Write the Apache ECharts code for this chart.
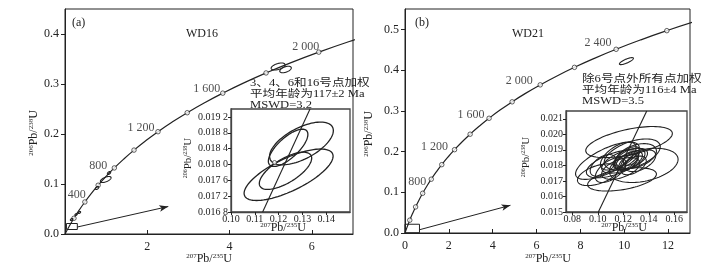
<!DOCTYPE html>
<html><head><meta charset="utf-8">
<script src="https://cdn.jsdelivr.net/npm/echarts@6/dist/echarts.min.js"></script>
<style>html,body{margin:0;padding:0;background:#fff}#c{width:728px;height:278px}</style>
</head><body><div id="c"></div>
<script>
// ---- data ----
const concordiaAges = [0,100,200,300,400,500,600,700,800,900,1000,1100,1200,1300,1400,1500,1600,1700,1800,1900,2000,2100,2200,2300,2400,2500,2600,2700,2800];
const concordia207 = [0,0.1035,0.2177,0.3437,0.4828,0.6364,0.8057,0.9927,1.1987,1.4263,1.6774,1.9546,2.2603,2.5977,2.9703,3.3812,3.8348,4.3346,4.8868,5.4960,6.1685,6.9104,7.7292,8.6325,9.6297,10.7301,11.9444,13.2844,14.7631];
const concordia206 = [0,0.01563,0.03151,0.04764,0.06402,0.08065,0.09754,0.11470,0.13213,0.14984,0.16782,0.18607,0.20459,0.22343,0.24256,0.26198,0.28171,0.30177,0.32211,0.34280,0.36374,0.38509,0.40672,0.42874,0.45107,0.47374,0.49680,0.52024,0.54400];
const labeledAgesA = [400,800,1200,1600,2000];
const labeledAgesB = [800,1200,1600,2000,2400];
// error ellipses: [x207, y206, sx, sy, rho]
const mainEllipsesA = [[5.18,0.335,0.17,0.007,0.5],[5.36,0.329,0.14,0.0065,0.5],[0.99,0.109,0.13,0.006,0.6],[1.07,0.122,0.04,0.003,0.5],[0.78,0.092,0.04,0.003,0.5],[0.16,0.029,0.03,0.002,0.5],[0.27,0.039,0.03,0.002,0.5],[0.35,0.043,0.03,0.002,0.5]];
const mainEllipsesB = [[10.1,0.422,0.32,0.0086,0.8]];
const insetEllipsesA = [[0.1296,0.01853,0.0134,0.00054,0.6],[0.1240,0.01842,0.0083,0.00047,0.72],[0.1242,0.01774,0.0187,0.00065,0.72],[0.1229,0.01784,0.0110,0.00047,0.68]];
const insetEllipsesB = [[0.1245,0.0195,0.034,0.0010,0.55],[0.136,0.0180,0.027,0.0011,0.35],[0.119,0.0171,0.027,0.00075,0.45],[0.1075,0.0183,0.025,0.0012,0.7],[0.100,0.0174,0.016,0.0007,0.5],[0.113,0.0181,0.022,0.0009,0.6],[0.127,0.0187,0.022,0.0010,0.5],[0.121,0.0183,0.018,0.0008,0.6],[0.125,0.0184,0.012,0.0007,0.5],[0.123,0.0183,0.009,0.0006,0.6],[0.126,0.0184,0.006,0.0004,0.5],[0.124,0.0182,0.0075,0.0005,0.55],[0.118,0.0178,0.015,0.0007,0.5],[0.130,0.0186,0.016,0.0008,0.4],[0.116,0.0186,0.014,0.0009,0.6],[0.1335,0.0183,0.012,0.0007,0.5],[0.110,0.0177,0.012,0.0008,0.55],[0.128,0.0180,0.010,0.0006,0.5],[0.1225,0.0185,0.0105,0.0007,0.65],[0.104,0.0180,0.010,0.0007,0.5]];
const insetConcordiaA = [[0.1133,0.0168],[0.1332,0.0194]];
const insetConcordiaB = [[0.1004,0.015],[0.1384,0.0215]];
const insetMarkA = [[0.1183,0.01805]];
const zoomBoxA = [[0.035,0.009],[0.30,0.009],[0.30,0.021],[0.035,0.021],[0.035,0.009]];
const arrowA = [[0.30,0.014],[2.51,0.055]];
const zoomBoxB = [[0,0.0005],[0.66,0.0005],[0.66,0.0215],[0,0.0215],[0,0.0005]];
const arrowB = [[0.66,0.008],[4.81,0.068]];
const insetTicksBx = [0.08,0.10,0.12,0.14,0.16];
const textA = ['3、4、6和16号点加权','平均年龄为117±2 Ma','MSWD=3.2'];
const textB = ['除6号点外所有点加权','平均年龄为116±4 Ma','MSWD=3.5'];

// ---- chart ----
const FONT = '"Liberation Serif","Noto Sans CJK SC",serif';
const INK = '#222';
const chart = echarts.init(document.getElementById('c'), null, {renderer:'canvas'});
const curve = concordiaAges.map((a,i)=>[concordia207[i],concordia206[i]]);
const circles = concordiaAges.map((a,i)=>[concordia207[i],concordia206[i],a]).filter(d=>d[2]>0 && d[2]%200===0);
function ageText(a){const s=String(a);return s.length>3? s.slice(0,s.length-3)+' '+s.slice(-3):s;}
const offA = {400:[-8,-7],800:[-16,-2],1200:[-17,-4],1600:[-16,-4],2000:[-13,-5]};
const offB = {800:[-14,3],1200:[-20,-3],1600:[-18,-3],2000:[-21,-4],2400:[-18,-6]};
function labelData(ages, off){
  return ages.map(a=>{const i=concordiaAges.indexOf(a);return {value:[concordia207[i],concordia206[i],a],label:{position:off[a]}};});
}
function ellipseSeries(data, xi, lw){
  return {type:'custom', xAxisIndex:xi, yAxisIndex:xi, clip:true, data:data, encode:{x:0,y:1}, z:4,
    renderItem:function(params, api){
      const cx=api.value(0), cy=api.value(1), sx=api.value(2), sy=api.value(3), r=api.value(4);
      const q=Math.sqrt(1-r*r), pts=[];
      for(let k=0;k<=90;k++){const t=k/90*2*Math.PI;pts.push(api.coord([cx+sx*Math.cos(t), cy+sy*(r*Math.cos(t)+q*Math.sin(t))]));}
      return {type:'polygon', shape:{points:pts}, style:{fill:'none', stroke:INK, lineWidth:lw}};
    }};
}
function mainX(gi, max){return {gridIndex:gi,type:'value',min:0,max:max,interval:2,
  axisLine:{show:true,onZero:false,lineStyle:{color:INK,width:1}},axisTick:{show:true,inside:true,length:4,lineStyle:{color:INK}},
  splitLine:{show:false},axisLabel:{show:true,color:INK,fontFamily:FONT,fontSize:12,margin:7,showMaxLabel:false,showMinLabel:gi===1}};}
function mainY(gi, max){return {gridIndex:gi,type:'value',min:0,max:max,interval:0.1,
  axisLine:{show:true,onZero:false,lineStyle:{color:INK,width:1}},axisTick:{show:true,inside:false,length:4,lineStyle:{color:INK}},
  splitLine:{show:false},axisLabel:{show:true,color:INK,fontFamily:FONT,fontSize:12,margin:6,showMaxLabel:false,formatter:v=>v.toFixed(1)}};}
const insetAxisBase = {type:'value', axisLine:{show:true,onZero:false,lineStyle:{color:'#444',width:1.3}}, axisTick:{show:true,inside:false,length:3,lineStyle:{color:INK}}, splitLine:{show:false}};
function sp4(v){const s=v.toFixed(4);return s.slice(0,5)+' '+s.slice(5);}

function axisTitle(x,y,txt,rot,sz){
  return {type:'text', x:x, y:y, rotation:rot, z:100,
    style:{text:'{s|'+txt[0]+'}Pb/{s|'+txt[1]+'}U', fill:INK, font:sz+'px '+FONT, align:'center', verticalAlign:'middle',
      rich:{s:{fontSize:Math.round(sz*0.58),fontFamily:FONT,fill:INK,verticalAlign:'top'}}}};
}
function plainText(x,y,t,sz,align){
  return {type:'text', x:x, y:y, z:100, style:{text:t, fill:INK, font:sz+'px '+FONT, align:align||'left', verticalAlign:'middle'}};
}
function noteText(x,y,lines){
  return {type:'text', x:x, y:y, z:100, scaleX:1.2, style:{text:lines.join('\n'), fill:INK, font:'10.5px '+FONT, lineHeight:11, align:'left', verticalAlign:'top'}};
}

const option = {
  animation:false, backgroundColor:'#fff',
  grid:[
    {left:65, top:9, width:288, height:225, show:true, borderColor:INK, borderWidth:1, backgroundColor:'transparent'},
    {left:405, top:9, width:285, height:224, show:true, borderColor:INK, borderWidth:1, backgroundColor:'transparent'},
    {left:231, top:109, width:119, height:103, show:true, borderColor:'#444', borderWidth:1.3, backgroundColor:'#fff', z:5},
    {left:566, top:111, width:121, height:101, show:true, borderColor:'#444', borderWidth:1.3, backgroundColor:'#fff', z:5}
  ],
  xAxis:[
    mainX(0,7), mainX(1,13),
    Object.assign({}, insetAxisBase, {gridIndex:2, min:0.10, max:0.15, interval:0.01, z:6,
      axisLabel:{color:INK,fontFamily:FONT,fontSize:10,margin:2,showMaxLabel:false,formatter:v=>v.toFixed(2)}}),
    Object.assign({}, insetAxisBase, {gridIndex:3, min:0.075, max:0.17, z:6,
      axisTick:{show:true,inside:false,length:3,customValues:insetTicksBx,lineStyle:{color:INK}},
      axisLabel:{color:INK,fontFamily:FONT,fontSize:10,margin:2,customValues:insetTicksBx,formatter:v=>v.toFixed(2)}})
  ],
  yAxis:[
    mainY(0,0.45), mainY(1,0.55),
    Object.assign({}, insetAxisBase, {gridIndex:2, min:0.0168, max:0.0194, interval:0.0004, z:6,
      axisLabel:{color:INK,fontFamily:FONT,fontSize:10,margin:3,showMaxLabel:false,formatter:sp4}}),
    Object.assign({}, insetAxisBase, {gridIndex:3, min:0.015, max:0.0215, interval:0.001, z:6,
      axisLabel:{color:INK,fontFamily:FONT,fontSize:10,margin:3,showMaxLabel:false,formatter:v=>v.toFixed(3)}})
  ],
  series:[
    // panel a
    {type:'line', xAxisIndex:0, yAxisIndex:0, data:curve, smooth:true, symbol:'none', clip:true, lineStyle:{color:INK,width:1.2}, z:2},
    {type:'scatter', xAxisIndex:0, yAxisIndex:0, data:circles, symbol:'circle', symbolSize:4.5, clip:true, itemStyle:{color:'#fff',borderColor:INK,borderWidth:0.9}, z:3},
    {type:'scatter', xAxisIndex:0, yAxisIndex:0, data:labelData(labeledAgesA,offA), symbolSize:0, z:3,
      label:{show:true, formatter:p=>ageText(p.value[2]), color:INK, fontFamily:FONT, fontSize:12, align:'center', verticalAlign:'middle'}},
    ellipseSeries(mainEllipsesA, 0, 1.1),
    {type:'line', xAxisIndex:0, yAxisIndex:0, data:zoomBoxA, symbol:'none', lineStyle:{color:INK,width:1}, z:3,
      markLine:{silent:true, symbol:['none','arrow'], symbolSize:[5,9], label:{show:false}, lineStyle:{color:INK,width:1,type:'solid'},
        data:[[{coord:arrowA[0]},{coord:arrowA[1]}]]}},
    // panel b
    {type:'line', xAxisIndex:1, yAxisIndex:1, data:curve, smooth:true, symbol:'none', clip:true, lineStyle:{color:INK,width:1.2}, z:2},
    {type:'scatter', xAxisIndex:1, yAxisIndex:1, data:circles, symbol:'circle', symbolSize:4.5, clip:true, itemStyle:{color:'#fff',borderColor:INK,borderWidth:0.9}, z:3},
    {type:'scatter', xAxisIndex:1, yAxisIndex:1, data:labelData(labeledAgesB,offB), symbolSize:0, z:3,
      label:{show:true, formatter:p=>ageText(p.value[2]), color:INK, fontFamily:FONT, fontSize:12, align:'center', verticalAlign:'middle'}},
    ellipseSeries(mainEllipsesB, 1, 1.1),
    {type:'line', xAxisIndex:1, yAxisIndex:1, data:zoomBoxB, symbol:'none', lineStyle:{color:INK,width:1}, z:3,
      markLine:{silent:true, symbol:['none','arrow'], symbolSize:[5,9], label:{show:false}, lineStyle:{color:INK,width:1,type:'solid'},
        data:[[{coord:arrowB[0]},{coord:arrowB[1]}]]}},
    // inset a
    {type:'line', xAxisIndex:2, yAxisIndex:2, data:insetConcordiaA, symbol:'none', clip:true, lineStyle:{color:INK,width:1.1}, z:6},
    Object.assign(ellipseSeries(insetEllipsesA, 2, 1.3), {z:6}),
    {type:'scatter', xAxisIndex:2, yAxisIndex:2, data:insetMarkA, symbol:'circle', symbolSize:4, itemStyle:{color:'#fff',borderColor:INK,borderWidth:0.8}, z:7},
    // inset b
    {type:'line', xAxisIndex:3, yAxisIndex:3, data:insetConcordiaB, symbol:'none', clip:true, lineStyle:{color:INK,width:1.1}, z:6},
    Object.assign(ellipseSeries(insetEllipsesB, 3, 1.1), {z:6})
  ],
  graphic:[
    plainText(72,23,'(a)',12), plainText(202,34,'WD16',12,'center'),
    plainText(415,23,'(b)',12), plainText(528,34,'WD21',12,'center'),
    noteText(250,78,textA), noteText(582,74,textB),
    axisTitle(209,259,['207','235'],0,12), axisTitle(548,259,['207','235'],0,12),
    axisTitle(34,133,['206','238'],Math.PI/2,12), axisTitle(369,134,['206','238'],Math.PI/2,12),
    axisTitle(283,228,['207','235'],0,12), axisTitle(624,228,['207','235'],0,12),
    axisTitle(188,158,['206','238'],Math.PI/2,11), axisTitle(526,157,['206','238'],Math.PI/2,11)
  ]
};
chart.setOption(option);
</script></body></html>
